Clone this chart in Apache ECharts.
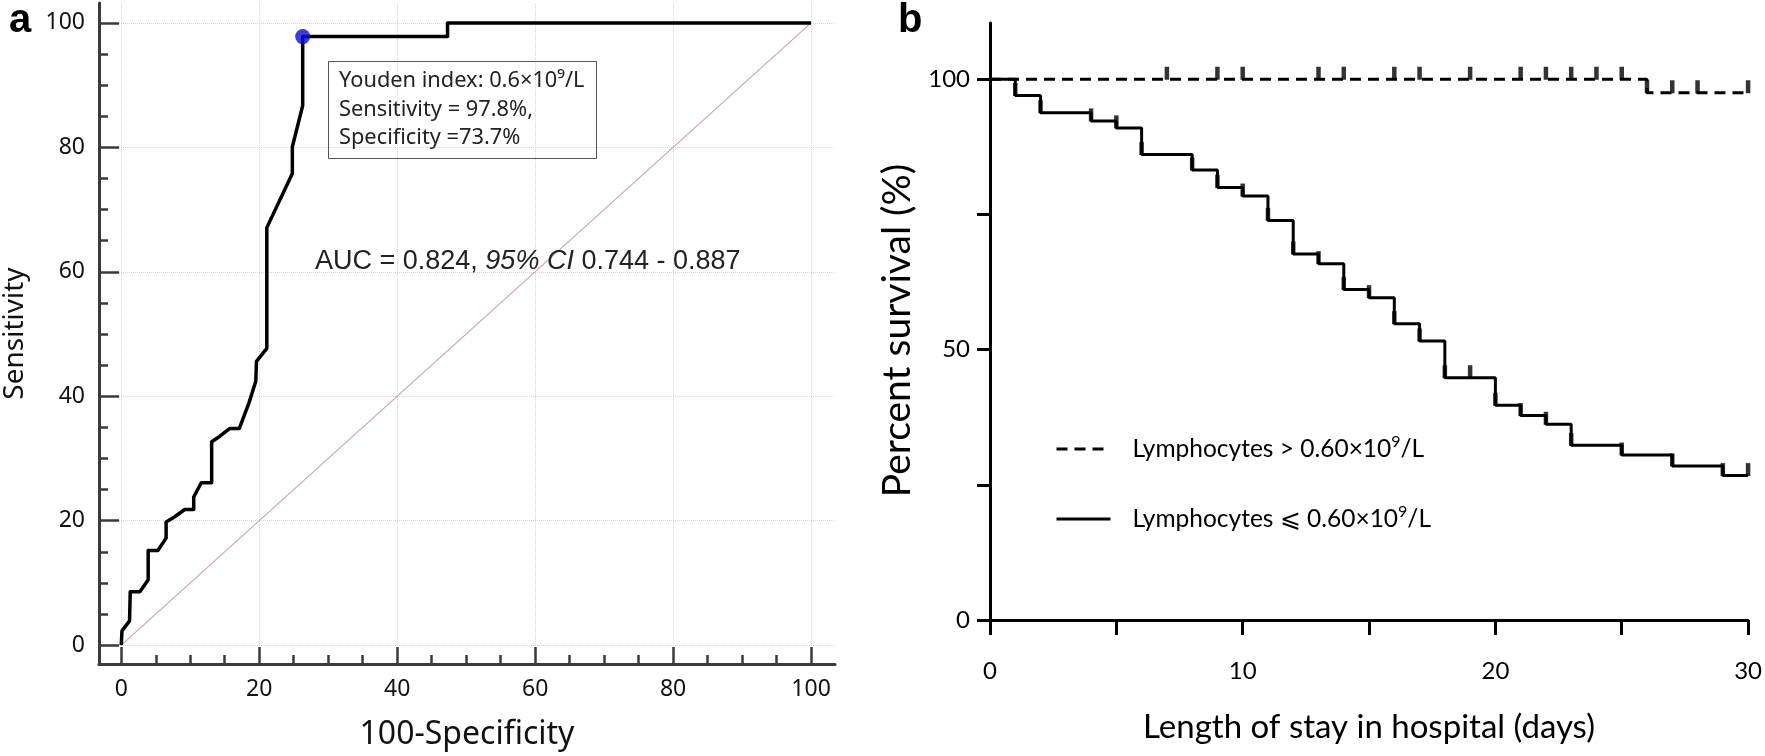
<!DOCTYPE html>
<html><head><meta charset="utf-8">
<script src="https://cdn.jsdelivr.net/npm/echarts@6/dist/echarts.min.js"></script>
<style>html,body{margin:0;padding:0;background:#fff}#c{width:1765px;height:756px}</style>
</head><body><div id="c"></div>
<script>
// ---------- Panel a: ROC curve ----------
const rocX = [0, 0.1, 1.2, 1.3, 2.7, 3.9, 3.9, 5.3, 6.5, 6.5, 7.7, 9.2, 10.5, 10.5, 11.6, 13.1, 13.1, 14.2, 15.7, 17.1, 18.5, 19.5, 19.6, 21.1, 21.1, 24.8, 24.8, 26.3, 26.3, 47.3, 47.3, 100];
const rocY = [0, 2.3, 3.9, 8.6, 8.6, 10.5, 15.2, 15.2, 17.2, 19.8, 20.6, 21.8, 21.8, 23.8, 26.1, 26.1, 32.7, 33.5, 34.8, 34.8, 38.9, 42.4, 45.6, 47.7, 67.1, 75.8, 80.1, 86.7, 97.8, 97.8, 100, 100];
const diagX = [0, 100];
const diagY = [0, 100];
const youdenPoint = [26.3, 97.8];
const rocMajorTicks = [0, 20, 40, 60, 80, 100];
const rocMinorTicks = [5, 10, 15, 25, 30, 35, 45, 50, 55, 65, 70, 75, 85, 90, 95];

// ---------- Panel b: Kaplan-Meier ----------
const seriesNames = ['Lymphocytes > 0.60×10⁹/L', 'Lymphocytes ⩽ 0.60×10⁹/L'];
const kmHighDays = [0, 26, 30];
const kmHighSurv = [100, 97.5, 97.5];
const kmHighCensorDays = [7, 9, 10, 13, 14, 16, 17, 19, 21, 22, 23, 24, 25, 26, 27, 28, 30];
const kmHighCensorSurv = [100, 100, 100, 100, 100, 100, 100, 100, 100, 100, 100, 100, 100, 97.5, 97.5, 97.5, 97.5];
const kmLowDays = [0, 1, 2, 4, 5, 6, 8, 9, 10, 11, 12, 13, 14, 15, 16, 17, 18, 20, 21, 22, 23, 25, 27, 29, 30];
const kmLowSurv = [100, 97.0, 93.8, 92.3, 91.0, 86.1, 83.2, 80.0, 78.4, 73.9, 67.7, 65.9, 61.1, 59.6, 54.8, 51.6, 44.8, 39.7, 37.8, 36.2, 32.3, 30.5, 28.5, 26.7, 26.7];
const kmLowCensorDays = [1, 2, 4, 5, 6, 8, 9, 10, 11, 12, 13, 14, 15, 16, 17, 18, 19, 20, 21, 22, 23, 25, 27, 29, 30];
const kmLowCensorSurv = [97.0, 93.8, 92.3, 91.0, 86.1, 83.2, 80.0, 78.4, 73.9, 67.7, 65.9, 61.1, 59.6, 54.8, 51.6, 44.8, 44.8, 39.7, 37.8, 36.2, 32.3, 30.5, 28.5, 26.7, 26.7];
const kmXTicks = [0, 5, 10, 15, 20, 25, 30];
const kmXLabels = [0, 10, 20, 30];
const kmYTicks = [0, 25, 50, 75, 100];
const kmYLabels = [0, 50, 100];

const zip = (a, b) => a.map((v, i) => [v, b[i]]);

const axA = '#3a3a3a';
const fontA = 'Noto Sans';
const fontB = 'Lato';

const chart = echarts.init(document.getElementById('c'), null, {renderer: 'canvas'});
chart.setOption({
  animation: false,
  backgroundColor: '#fff',
  title: [
    {text: 'a', left: 4, top: -4, textStyle: {fontFamily: 'Liberation Sans', fontWeight: 'bold', fontSize: 40, color: '#000'}},
    {text: 'b', left: 893, top: -4, textStyle: {fontFamily: 'Liberation Sans', fontWeight: 'bold', fontSize: 40, color: '#000'}},
    {text: 'Youden index: 0.6×10⁹/L\nSensitivity = 97.8%,\nSpecificity =73.7%',
     left: 328, top: 61, padding: [6, 12, 6, 11], borderColor: '#555', borderWidth: 1,
     textStyle: {fontFamily: fontA, fontWeight: 'normal', fontSize: 21.8, lineHeight: 28.5, color: '#222'}},
    {text: '{n|AUC = 0.824, }{i|95% CI}{n| 0.744 - 0.887}', left: 310, top: 243,
     textStyle: {fontWeight: 'normal', rich: {
       n: {fontFamily: 'Liberation Sans', fontWeight: 'normal', fontSize: 27, color: '#222'},
       i: {fontFamily: 'Liberation Sans', fontWeight: 'normal', fontSize: 27, fontStyle: 'italic', color: '#222'}
     }}}
  ],
  legend: {
    data: seriesNames,
    orient: 'vertical', left: 1050, top: 429, itemWidth: 54, itemHeight: 14, itemGap: 40,
    lineStyle: {width: 3},
    itemStyle: {opacity: 0},
    formatter: function (name) {
      return '{p|}' + name.replace('10⁹', '10{s|9}');
    },
    textStyle: {fontFamily: fontB, fontSize: 24.5, color: '#000', lineHeight: 30,
      rich: {p: {width: 17}, s: {fontFamily: fontB, fontSize: 16, verticalAlign: 'top', lineHeight: 30, color: '#000'}}}
  },
  grid: [
    {left: 98, right: 930, top: 3, bottom: 86},
    {left: 990, right: 13, top: 23, bottom: 136}
  ],
  xAxis: [
    {type: 'value', gridIndex: 0, min: -3.23, max: 103.47, position: 'bottom',
     axisLine: {onZero: false, lineStyle: {color: axA, width: 3}},
     axisTick: {inside: true, length: 17, customValues: rocMajorTicks, lineStyle: {color: axA, width: 2.5}},
     axisLabel: {customValues: rocMajorTicks, fontFamily: fontA, fontSize: 23, color: '#111', margin: 14},
     splitLine: {show: true, lineStyle: {color: '#d6d6d6', type: 'dotted', width: 1}},
     name: '100-Specificity', nameLocation: 'middle', nameGap: 55,
     nameTextStyle: {fontFamily: fontA, fontSize: 32, color: '#111'}},
    {type: 'value', gridIndex: 0, min: -3.23, max: 103.47, position: 'bottom',
     axisLine: {show: false, onZero: false},
     axisTick: {inside: true, length: 9, customValues: rocMinorTicks, lineStyle: {color: axA, width: 2.5}},
     axisLabel: {show: false}, splitLine: {show: false}},
    {type: 'value', gridIndex: 1, min: 0, max: 30, position: 'bottom',
     axisLine: {onZero: false, lineStyle: {color: '#000', width: 3}},
     axisTick: {length: 15, customValues: kmXTicks, lineStyle: {color: '#000', width: 3}},
     axisLabel: {customValues: kmXLabels, fontFamily: fontB, fontSize: 24, color: '#000', margin: 39},
     splitLine: {show: false},
     name: 'Length of stay in hospital (days)', nameLocation: 'middle', nameGap: 91,
     nameTextStyle: {fontFamily: fontB, fontSize: 33, color: '#000'}}
  ],
  yAxis: [
    {type: 'value', gridIndex: 0, min: -3.03, max: 103.2, position: 'left',
     axisLine: {onZero: false, lineStyle: {color: axA, width: 3}},
     axisTick: {inside: true, length: 20, customValues: rocMajorTicks, lineStyle: {color: axA, width: 2.5}},
     axisLabel: {customValues: rocMajorTicks, fontFamily: fontA, fontSize: 23, color: '#111', margin: 14},
     splitLine: {show: true, lineStyle: {color: '#d6d6d6', type: 'dotted', width: 1}},
     name: 'Sensitivity', nameLocation: 'middle', nameGap: 70,
     nameTextStyle: {fontFamily: fontA, fontSize: 28, color: '#111'}},
    {type: 'value', gridIndex: 0, min: -3.03, max: 103.2, position: 'left',
     axisLine: {show: false, onZero: false},
     axisTick: {inside: true, length: 9, customValues: rocMinorTicks, lineStyle: {color: axA, width: 2.5}},
     axisLabel: {show: false}, splitLine: {show: false}},
    {type: 'value', gridIndex: 1, min: 0, max: 110.4, position: 'left',
     axisLine: {onZero: false, lineStyle: {color: '#000', width: 3}},
     axisTick: {length: 13, customValues: kmYTicks, lineStyle: {color: '#000', width: 3}},
     axisLabel: {customValues: kmYLabels, fontFamily: fontB, fontSize: 24, color: '#000', margin: 20},
     splitLine: {show: false},
     name: '{t|Percent survival (%)}{g|}', nameLocation: 'middle', nameGap: 73,
     nameTextStyle: {fontFamily: fontB, fontSize: 39, color: '#000',
       rich: {t: {fontFamily: fontB, fontSize: 39, color: '#000'}, g: {width: 18}}}}
  ],
  series: [
    {name: 'Reference', type: 'line', xAxisIndex: 0, yAxisIndex: 0, data: zip(diagX, diagY),
     symbol: 'none', lineStyle: {color: '#c9a6a6', width: 1.2}, z: 2},
    {name: 'ROC', type: 'line', xAxisIndex: 0, yAxisIndex: 0, data: zip(rocX, rocY),
     symbol: 'none', lineStyle: {color: '#000', width: 3.5, join: 'round'}, z: 3},
    {name: 'Youden', type: 'scatter', xAxisIndex: 0, yAxisIndex: 0, data: [youdenPoint],
     symbolSize: 15, itemStyle: {color: '#0b0bdc'}, z: 4},
    {name: seriesNames[0], type: 'line', xAxisIndex: 2, yAxisIndex: 2, step: 'end',
     data: zip(kmHighDays, kmHighSurv), symbol: 'none', color: '#000',
     lineStyle: {color: '#000', width: 3, type: [11, 7]}},
    {name: seriesNames[1], type: 'line', xAxisIndex: 2, yAxisIndex: 2, step: 'end',
     data: zip(kmLowDays, kmLowSurv), symbol: 'none', color: '#000',
     lineStyle: {color: '#000', width: 3}},
    {name: 'censorHigh', type: 'scatter', xAxisIndex: 2, yAxisIndex: 2,
     data: zip(kmHighCensorDays, kmHighCensorSurv), symbol: 'rect', symbolSize: [4.5, 13], symbolOffset: [0, -6],
     itemStyle: {color: '#000'}},
    {name: 'censorLow', type: 'scatter', xAxisIndex: 2, yAxisIndex: 2,
     data: zip(kmLowCensorDays, kmLowCensorSurv), symbol: 'rect', symbolSize: [4.5, 13], symbolOffset: [0, -6],
     itemStyle: {color: '#000'}}
  ]
});
</script></body></html>
